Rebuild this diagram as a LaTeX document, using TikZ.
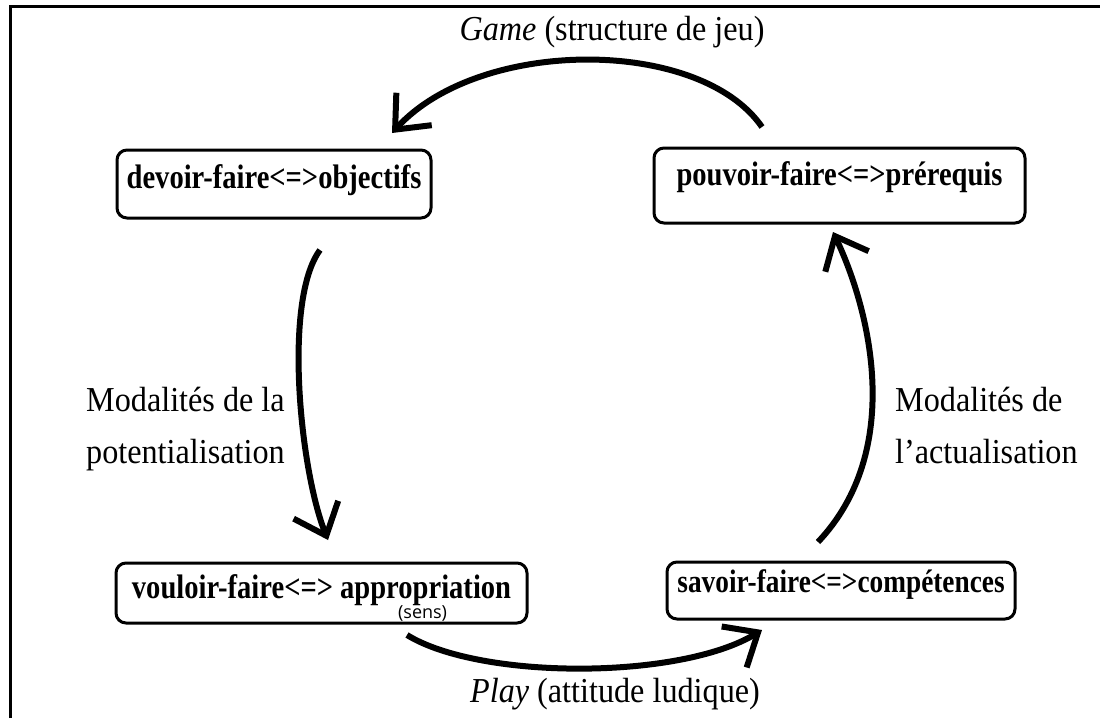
\documentclass[tikz,border=0pt]{standalone}
\usepackage{fontspec}
\setmainfont{Liberation Serif}
\newfontfamily\boxfont{Liberation Serif}[FakeStretch=0.84]
\newfontfamily\labelfont{Liberation Serif}[FakeStretch=0.92]
\newfontfamily\notefont{Open Sans}
\usepackage{tikz}
\usetikzlibrary{
    arrows.meta,
    calc
}
\tikzset{
    modal_box/.style={
        rectangle, draw, line width=3pt, rounded corners=10pt,
        inner xsep=0pt, inner ysep=0pt, outer sep=0pt, anchor=base,
        font=\boxfont\bfseries\fontsize{34}{40}\selectfont
    },
    cycle_arrow/.style={
        -{Straight Barb[length=28pt, width=48pt]}, line width=6pt
    },
    side_label/.style={
        align=left, anchor=base west, inner sep=0pt,
        font=\labelfont\fontsize{35}{52}\selectfont
    }
}

\begin{document}
\begin{tikzpicture}[
    x=1pt, y=-1pt,
    frame_line/.style={line width=3pt},
    arc_label/.style={anchor=base, inner sep=0pt, font=\labelfont\fontsize{35}{40}\selectfont}
  ]
    \useasboundingbox (0,0) rectangle (1100,718);
    \draw[frame_line] (10,718) -- (10,6) -- (1100,6);

    \node[modal_box, minimum width=314pt, text height=38pt, text depth=30pt] (devoir_box) at (274,188) {devoir-faire<=>objectifs};
    \node[modal_box, minimum width=371pt, text height=37pt, text depth=38pt] (pouvoir_box) at (839.5,185) {pouvoir-faire<=>prérequis};
    \node[modal_box, minimum width=411pt, text height=35pt, text depth=25pt] (vouloir_box) at (321.5,598) {vouloir-faire<=> appropriation\llap{\raisebox{-20pt}[0pt][0pt]{\notefont\mdseries\fontsize{18}{20}\selectfont(sens)\hspace{64pt}}}};
    \node[modal_box, minimum width=348pt, text height=30pt, text depth=27pt, font=\boxfont\bfseries\fontsize{32.5}{40}\selectfont] (savoir_box) at (841,592) {savoir-faire<=>compétences};

    \draw[cycle_arrow] ([shift={(108,-21)}]pouvoir_box.north west) .. controls +(-62,-90) and +(88,-96) .. ([shift={(275,-17)}]devoir_box.north west);
    \draw[cycle_arrow] ([shift={(203,32)}]devoir_box.south west) .. controls +(-37,50) and +(-28,-70) .. ([shift={(212,-23)}]vouloir_box.north west);
    \draw[cycle_arrow] ([shift={(291,12)}]vouloir_box.south west) .. controls +(73,45) and +(-82,50) .. ([shift={(95,11)}]savoir_box.south west);
    \draw[cycle_arrow] ([shift={(151,-20)}]savoir_box.north west) .. controls +(87,-92) and +(37,78) .. ([shift={(179,9)}]pouvoir_box.south west); % goes back up to pouvoir

    \node[arc_label] (game_label) at (612,40) {\textit{Game} (structure de jeu)};
    \node[arc_label] (play_label) at (615,702) {\textit{Play} (attitude ludique)};
    \node[side_label] (potent_label) at (86,463) {Modalités de la\\potentialisation}; % base is the last line
    \node[side_label] (actual_label) at (895,463) {Modalités de\\l’actualisation};
\end{tikzpicture}
\end{document}
